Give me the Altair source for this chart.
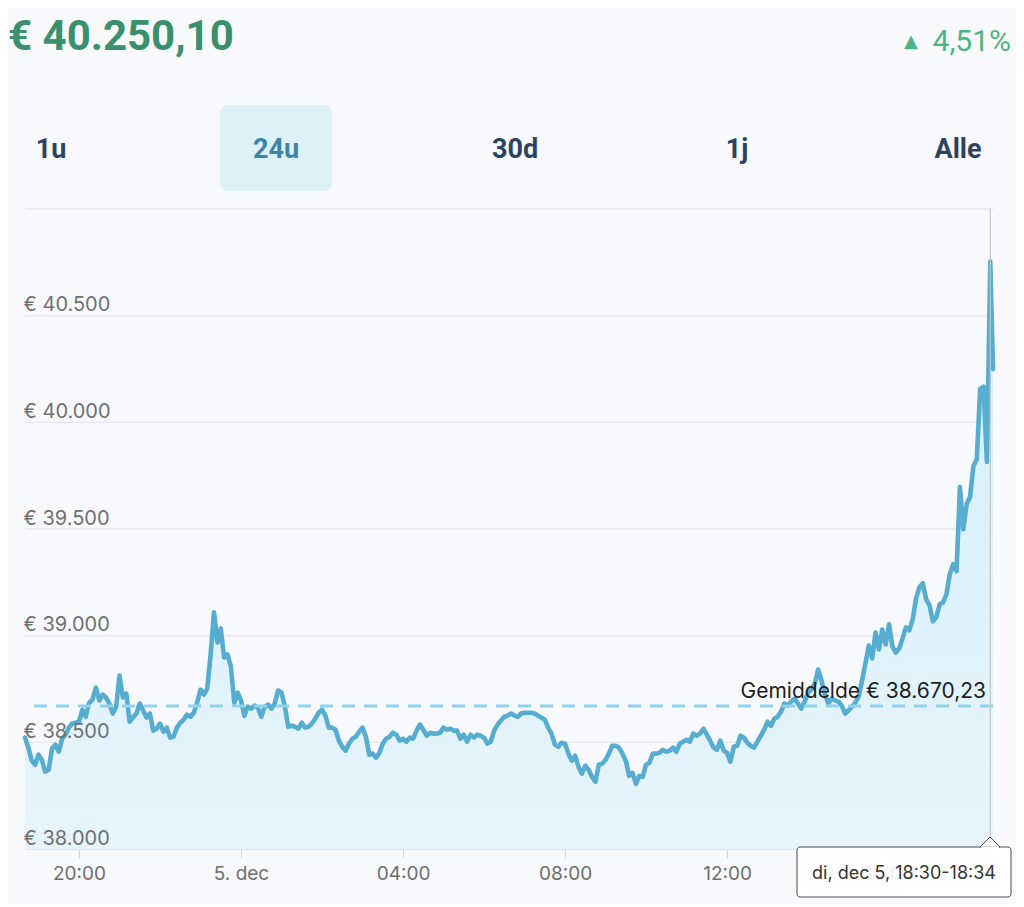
import altair as alt
import pandas as pd

# ---------------- data ----------------
prices = [
    38522, 38475, 38414, 38395, 38442, 38418, 38362, 38371, 38470, 38489,
    38456, 38517, 38536, 38569, 38588, 38592, 38597, 38653, 38620, 38686,
    38700, 38757, 38696, 38724, 38710, 38682, 38635, 38667, 38813, 38710,
    38729, 38597, 38616, 38635, 38682, 38649, 38616, 38635, 38555, 38564,
    38588, 38550, 38569, 38522, 38526, 38569, 38592, 38606, 38630, 38620,
    38639, 38686, 38747, 38724, 38752, 38912, 39110, 38968, 39034, 38898,
    38912, 38855, 38686, 38733, 38696, 38625, 38667, 38658, 38672, 38663,
    38620, 38667, 38677, 38658, 38682, 38743, 38733, 38667, 38573, 38578,
    38573, 38564, 38592, 38569, 38573, 38588, 38611, 38639, 38653, 38625,
    38569, 38569, 38559, 38508, 38479, 38461, 38494, 38517, 38526, 38550,
    38569, 38526, 38442, 38447, 38428, 38451, 38494, 38517, 38526, 38545,
    38536, 38508, 38517, 38503, 38522, 38517, 38555, 38583, 38559, 38531,
    38545, 38541, 38541, 38545, 38569, 38559, 38564, 38555, 38555, 38517,
    38536, 38503, 38536, 38522, 38536, 38531, 38522, 38494, 38503, 38555,
    38583, 38602, 38620, 38625, 38635, 38625, 38620, 38635, 38639, 38639,
    38639, 38635, 38625, 38616, 38606, 38569, 38541, 38489, 38479, 38498,
    38494, 38447, 38414, 38437, 38385, 38353, 38390, 38371, 38338, 38315,
    38395, 38400, 38418, 38447, 38484, 38484, 38475, 38447, 38414, 38343,
    38357, 38305, 38343, 38338, 38395, 38404, 38447, 38447, 38451, 38465,
    38456, 38461, 38475, 38456, 38494, 38503, 38512, 38503, 38541, 38531,
    38541, 38564, 38536, 38508, 38475, 38465, 38508, 38461, 38451, 38409,
    38479, 38484, 38531, 38522, 38498, 38484, 38475, 38503, 38531, 38559,
    38597, 38578, 38611, 38620, 38644, 38682, 38672, 38691, 38705, 38682,
    38658, 38691, 38733, 38747, 38776, 38841, 38790, 38724, 38682, 38705,
    38696, 38691, 38672, 38635, 38649, 38667, 38686, 38714, 38790, 38870,
    38954, 38893, 39015, 38935, 39029, 38959, 39053, 38949, 38921, 38940,
    38987, 39039, 39025, 39076, 39175, 39227, 39246, 39170, 39142, 39067,
    39086, 39147, 39156, 39194, 39288, 39335, 39302, 39697, 39499, 39617,
    39650, 39795, 39828, 40157, 40167, 39814, 40754,
    40250.10,
]
series_start = "2023-12-04T18:40:00"
last_time = "2023-12-05T18:34:00"
hover_time = "2023-12-05T18:30:00"
times = list(pd.date_range(series_start, periods=len(prices) - 1, freq="5min")
             .strftime("%Y-%m-%dT%H:%M:%S")) + [last_time]

average = 38670.23
y_ticks = [38000, 38500, 39000, 39500, 40000, 40500, 41000]
headline_price = "€ 40.250,10"
headline_change = "4,51%"
tabs = ["1u", "24u", "30d", "1j", "Alle"]
avg_label = "Gemiddelde € 38.670,23"
tooltip_label = "di, dec 5, 18:30-18:34"

df = pd.DataFrame({"time": times, "price": prices})
avg_df = pd.DataFrame({"avg": [average]})
hover_df = pd.DataFrame({"time": [hover_time]})
grid_df = pd.DataFrame({"price": y_ticks})
one = pd.DataFrame({"k": [0]})

# ---------------- layout / style ----------------
W, H = 968, 640
BG = "#f8f9fd"
LINE = "#56add0"
FONT = "Inter"

y_scale = alt.Scale(domain=[38000, 41000], nice=False, zero=False)

x_enc = alt.X(
    "time:T",
    scale=alt.Scale(domain=[series_start, last_time]),
    axis=alt.Axis(
        values=[
            alt.DateTime(year=2023, month=12, date=4, hours=20),
            alt.DateTime(year=2023, month=12, date=5, hours=0),
            alt.DateTime(year=2023, month=12, date=5, hours=4),
            alt.DateTime(year=2023, month=12, date=5, hours=8),
            alt.DateTime(year=2023, month=12, date=5, hours=12),
            alt.DateTime(year=2023, month=12, date=5, hours=16),
        ],
        labelExpr="hours(datum.value) == 0 ? date(datum.value) + '. dec' : timeFormat(datum.value, '%H:%M')",
        grid=False,
        domainColor="#cdd5e3",
        tickColor="#cdd5e3",
        tickSize=9,
        labelPadding=6,
        labelFont=FONT,
        labelFontSize=19,
        labelColor="#6e6e6e",
        labelFlush=False,
        labelOverlap=False,
        title=None,
    ),
)
y_axis = alt.Axis(
    values=y_ticks,
    labelExpr="datum.value >= 41000 ? '' : '€ ' + replace(format(datum.value, ',.0f'), ',', '.')",
    labelAlign="left",
    labelBaseline="alphabetic",
    labelOffset=-5,
    labelPadding=2,
    ticks=False,
    tickSize=0,
    domain=False,
    grid=False,
    labelFont=FONT,
    labelFontSize=20,
    labelColor="#707070",
    labelOverlap=False,
    labelFlush=False,
    zindex=1,
    title=None,
)

grid = alt.Chart(grid_df).mark_rule(color="#e6e9ef", strokeWidth=1.5).encode(
    y=alt.Y("price:Q", scale=y_scale, axis=y_axis)
)

base = alt.Chart(df)

area = base.mark_area(
    color=alt.Gradient(
        gradient="linear",
        stops=[
            alt.GradientStop(color="#cfedf9", offset=0),
            alt.GradientStop(color="#e4f4fc", offset=1),
        ],
        x1=1, x2=1, y1=0, y2=1,
    ),
    opacity=0.88,
).encode(x=x_enc, y=alt.Y("price:Q", scale=y_scale, axis=y_axis), y2=alt.datum(38000))

line = base.mark_line(color=LINE, strokeWidth=4.6, strokeJoin="round", strokeCap="round").encode(
    x="time:T", y="price:Q"
)

avg_rule = alt.Chart(avg_df).mark_rule(
    color="#8fd3ec", strokeWidth=3, strokeDash=[13, 9]
).encode(y="avg:Q")

avg_text = alt.Chart(avg_df).mark_text(
    text=avg_label, align="right", baseline="alphabetic", dy=-8,
    font=FONT, fontSize=21, color="#1e1e1e",
).encode(y="avg:Q", x=alt.value(961))

crosshair = alt.Chart(hover_df).mark_rule(color="#c3c6ca", strokeWidth=1.2).encode(
    x="time:T", y=alt.value(0), y2=alt.value(628)
)

# header
title_txt = alt.Chart(one).mark_text(
    text=headline_price, align="left", baseline="alphabetic",
    font="Roboto", fontWeight="bold", fontSize=42, color="#3a8f6c",
).encode(x=alt.value(-17), y=alt.value(-159))

tri_txt = alt.Chart(one).mark_text(
    text="▲", align="center", baseline="alphabetic",
    font="DejaVu Sans", fontSize=18, color="#4db584",
).encode(x=alt.value(886), y=alt.value(-162))

pct_txt = alt.Chart(one).mark_text(
    text=headline_change, align="right", baseline="alphabetic",
    font="Roboto", fontSize=30, color="#4db584",
).encode(x=alt.value(986), y=alt.value(-158))

tab_bg = alt.Chart(one).mark_rect(fill="#ddf1f8", cornerRadius=8).encode(
    x=alt.value(195), x2=alt.value(307), y=alt.value(-104), y2=alt.value(-18)
)

tab_x = [26, 251, 490, 712, 933]
tab_layers = []
for label, px in zip(tabs, tab_x):
    tab_layers.append(
        alt.Chart(one).mark_text(
            text=label, align="center", baseline="middle",
            font="Roboto", fontWeight="bold", fontSize=27,
            color="#3a86ab" if label == "24u" else "#2c435f",
        ).encode(x=alt.value(px), y=alt.value(-59))
    )

# tooltip box
tip_box = alt.Chart(one).mark_rect(
    fill="white", fillOpacity=0.9, stroke="#4a4a4a", strokeWidth=1, cornerRadius=3
).encode(x=alt.value(772), x2=alt.value(986), y=alt.value(638), y2=alt.value(688))

tip_arrow = alt.Chart(one).mark_point(
    shape="M-1,0L0,-1L1,0Z", size=400, filled=True, fill="white",
    stroke="#4a4a4a", strokeWidth=1, opacity=1,
).encode(x=alt.value(965), y=alt.value(638))

tip_cover = alt.Chart(one).mark_rule(color="white", strokeWidth=2).encode(
    x=alt.value(956), x2=alt.value(974), y=alt.value(638.5)
)

tip_text = alt.Chart(one).mark_text(
    text=tooltip_label, align="center", baseline="middle",
    font=FONT, fontSize=18, color="#333333",
).encode(x=alt.value(879), y=alt.value(665))

chart = alt.layer(
    grid, area, line, avg_rule, avg_text, crosshair,
    title_txt, tri_txt, pct_txt, tab_bg, *tab_layers,
    tip_box, tip_arrow, tip_cover, tip_text,
).properties(
    width=W, height=H,
    autosize=alt.AutoSizeParams(type="none"),
    padding={"left": 17, "top": 201, "right": 23, "bottom": 55},
    background=BG,
).configure_view(stroke=None)

chart.save("out.html", embed_options={"renderer": "svg", "actions": False})
